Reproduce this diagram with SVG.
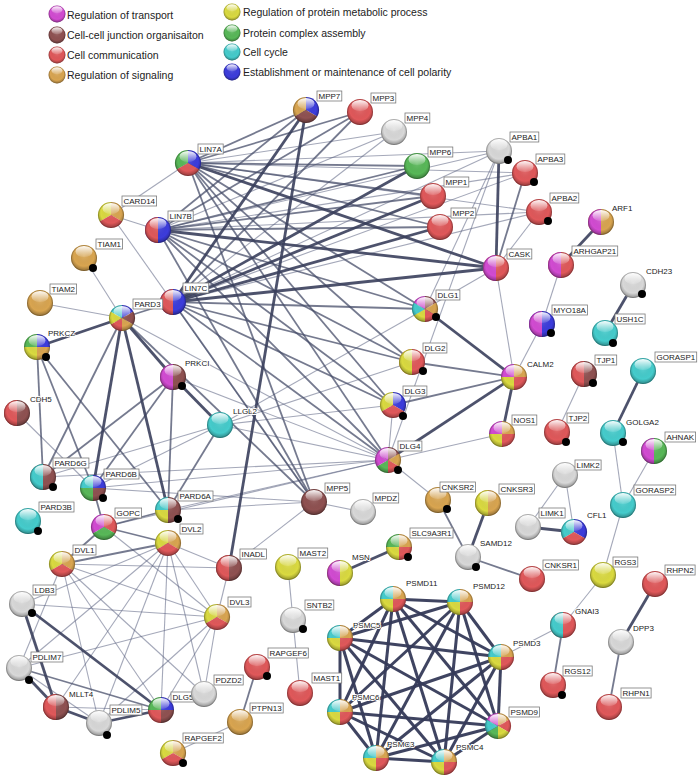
<svg xmlns="http://www.w3.org/2000/svg" xmlns:xlink="http://www.w3.org/1999/xlink" width="700" height="780" viewBox="0 0 700 780">
<style>
.l{stroke:#5a6080;stroke-opacity:.55;stroke-width:1.1}
.m{stroke:#474d6a;stroke-opacity:.75;stroke-width:1.8}
.t{stroke:#3a3f5c;stroke-opacity:.9;stroke-width:2.8}
.p{stroke:#353a58;stroke-opacity:.95;stroke-width:3}
.lb{fill:#fff;stroke:#7a7a7a;stroke-width:.8}
.lt,.lu{font-family:"Liberation Sans",Arial,sans-serif;font-size:8px;fill:#222}
.lu{paint-order:stroke;stroke:#fff;stroke-width:2;stroke-linejoin:round}
.lg{font-family:"Liberation Sans",Arial,sans-serif;font-size:10.5px;fill:#222}
.dot{fill:#000}
.mag{fill:#d24bd2}.brn{fill:#8f5151}.red{fill:#e0585a}.tan{fill:#d9a550}.yel{fill:#dada40}.grn{fill:#58b858}.cyn{fill:#45cccc}.blu{fill:#3c3cdc}.gry{fill:#d8d8d8}
</style>
<defs>
<radialGradient id="shade" cx="0.5" cy="0.42" r="0.6">
<stop offset="0" stop-color="#fff" stop-opacity="0.12"/>
<stop offset="0.65" stop-color="#000" stop-opacity="0"/>
<stop offset="1" stop-color="#000" stop-opacity="0.38"/>
</radialGradient>
<linearGradient id="hi" x1="0" y1="0" x2="0" y2="1">
<stop offset="0" stop-color="#fff" stop-opacity="0.95"/>
<stop offset="1" stop-color="#fff" stop-opacity="0.1"/>
</linearGradient>
<circle id="c" r="13"/>
<path id="hL" d="M0,-13A13,13 0 0 0 0,13Z"/>
<path id="qTL" d="M0,0H-13A13,13 0 0 1 0,-13Z"/>
<path id="qTR" d="M0,0V-13A13,13 0 0 1 13,0Z"/>
<path id="qBR" d="M0,0H13A13,13 0 0 1 0,13Z"/>
<path id="qBL" d="M0,0V13A13,13 0 0 1 -13,0Z"/>
<path id="tTL" d="M0,0L-11.26,6.5A13,13 0 0 1 0,-13Z"/>
<path id="tTR" d="M0,0V-13A13,13 0 0 1 11.26,6.5Z"/>
<path id="tB" d="M0,0L11.26,6.5A13,13 0 0 1 -11.26,6.5Z"/>
<path id="s1" d="M0,0V-13A13,13 0 0 1 11.26,-6.5Z"/>
<path id="s2" d="M0,0L11.26,-6.5A13,13 0 0 1 11.26,6.5Z"/>
<path id="s3" d="M0,0L11.26,6.5A13,13 0 0 1 0,13Z"/>
<path id="s4" d="M0,0V13A13,13 0 0 1 -11.26,6.5Z"/>
<path id="s5" d="M0,0L-11.26,6.5A13,13 0 0 1 -11.26,-6.5Z"/>
<path id="s6" d="M0,0L-11.26,-6.5A13,13 0 0 1 0,-13Z"/>
<g id="gl">
<circle r="13" fill="url(#shade)"/>
<ellipse cx="0" cy="-6.5" rx="8.5" ry="5.5" fill="url(#hi)"/>
<circle r="12.6" fill="none" stroke="#000" stroke-opacity="0.22" stroke-width="0.8"/>
</g>
</defs>
<rect width="700" height="780" fill="#fff"/>

<g id="legend">
<g transform="translate(57,14) scale(0.65)"><use href="#c" class="mag"/><use href="#gl"/></g>
<g transform="translate(57,35) scale(0.65)"><use href="#c" class="brn"/><use href="#gl"/></g>
<g transform="translate(57,55) scale(0.65)"><use href="#c" class="red"/><use href="#gl"/></g>
<g transform="translate(57,75) scale(0.65)"><use href="#c" class="tan"/><use href="#gl"/></g>
<g transform="translate(232,12) scale(0.65)"><use href="#c" class="yel"/><use href="#gl"/></g>
<g transform="translate(232,33) scale(0.65)"><use href="#c" class="grn"/><use href="#gl"/></g>
<g transform="translate(232,52) scale(0.65)"><use href="#c" class="cyn"/><use href="#gl"/></g>
<g transform="translate(232,72) scale(0.65)"><use href="#c" class="blu"/><use href="#gl"/></g>
<text class="lg" x="67" y="19">Regulation of transport</text>
<text class="lg" x="67" y="39">Cell-cell junction organisaiton</text>
<text class="lg" x="67" y="59">Cell communication</text>
<text class="lg" x="67" y="79">Regulation of signaling</text>
<text class="lg" x="243" y="16">Regulation of protein metabolic process</text>
<text class="lg" x="243" y="37">Protein complex assembly</text>
<text class="lg" x="243" y="56">Cell cycle</text>
<text class="lg" x="243" y="76">Establishment or maintenance of cell polarity</text>
</g>

<g id="edges">
<line class="l" x1="188" y1="163" x2="111" y2="215"/>
<line class="l" x1="158" y1="230" x2="111" y2="215"/>
<line class="l" x1="188" y1="163" x2="394" y2="132"/>
<line class="l" x1="188" y1="163" x2="499" y2="151"/>
<line class="l" x1="188" y1="163" x2="525" y2="173"/>
<line class="l" x1="188" y1="163" x2="539" y2="212"/>
<line class="l" x1="158" y1="230" x2="394" y2="132"/>
<line class="l" x1="158" y1="230" x2="499" y2="151"/>
<line class="l" x1="158" y1="230" x2="525" y2="173"/>
<line class="l" x1="158" y1="230" x2="539" y2="212"/>
<line class="l" x1="173" y1="302" x2="394" y2="132"/>
<line class="l" x1="173" y1="302" x2="499" y2="151"/>
<line class="l" x1="173" y1="302" x2="525" y2="173"/>
<line class="l" x1="173" y1="302" x2="539" y2="212"/>
<line class="l" x1="496" y1="268" x2="539" y2="212"/>
<line class="l" x1="496" y1="268" x2="514" y2="377"/>
<line class="l" x1="496" y1="268" x2="425" y2="309"/>
<line class="l" x1="499" y1="151" x2="425" y2="309"/>
<line class="l" x1="499" y1="151" x2="388" y2="460"/>
<line class="l" x1="542" y1="324" x2="561" y2="265"/>
<line class="l" x1="542" y1="324" x2="514" y2="377"/>
<line class="l" x1="425" y1="309" x2="220" y2="425"/>
<line class="l" x1="412" y1="362" x2="220" y2="425"/>
<line class="l" x1="393" y1="405" x2="220" y2="425"/>
<line class="l" x1="388" y1="460" x2="220" y2="425"/>
<line class="l" x1="393" y1="405" x2="388" y2="460"/>
<line class="l" x1="388" y1="460" x2="502" y2="434"/>
<line class="l" x1="388" y1="460" x2="438" y2="500"/>
<line class="l" x1="122" y1="318" x2="84" y2="258"/>
<line class="l" x1="122" y1="318" x2="40" y2="303"/>
<line class="l" x1="122" y1="318" x2="388" y2="460"/>
<line class="l" x1="173" y1="377" x2="388" y2="460"/>
<line class="l" x1="17" y1="413" x2="93" y2="488"/>
<line class="l" x1="220" y1="425" x2="43" y2="477"/>
<line class="l" x1="220" y1="425" x2="93" y2="488"/>
<line class="l" x1="93" y1="488" x2="388" y2="460"/>
<line class="l" x1="43" y1="477" x2="388" y2="460"/>
<line class="l" x1="168" y1="510" x2="388" y2="460"/>
<line class="l" x1="104" y1="527" x2="388" y2="460"/>
<line class="l" x1="93" y1="488" x2="314" y2="502"/>
<line class="l" x1="168" y1="510" x2="314" y2="502"/>
<line class="l" x1="229" y1="568" x2="314" y2="502"/>
<line class="l" x1="314" y1="502" x2="363" y2="512"/>
<line class="l" x1="111" y1="215" x2="314" y2="502"/>
<line class="l" x1="62" y1="564" x2="217" y2="617"/>
<line class="l" x1="62" y1="564" x2="229" y2="568"/>
<line class="l" x1="168" y1="543" x2="229" y2="568"/>
<line class="l" x1="217" y1="617" x2="229" y2="568"/>
<line class="l" x1="62" y1="564" x2="19" y2="668"/>
<line class="l" x1="62" y1="564" x2="99" y2="723"/>
<line class="l" x1="62" y1="564" x2="161" y2="710"/>
<line class="l" x1="62" y1="564" x2="204" y2="694"/>
<line class="l" x1="168" y1="543" x2="22" y2="604"/>
<line class="l" x1="168" y1="543" x2="19" y2="668"/>
<line class="l" x1="168" y1="543" x2="56" y2="707"/>
<line class="l" x1="168" y1="543" x2="99" y2="723"/>
<line class="l" x1="168" y1="543" x2="161" y2="710"/>
<line class="l" x1="168" y1="543" x2="204" y2="694"/>
<line class="l" x1="168" y1="543" x2="217" y2="617"/>
<line class="l" x1="217" y1="617" x2="22" y2="604"/>
<line class="l" x1="217" y1="617" x2="19" y2="668"/>
<line class="l" x1="217" y1="617" x2="161" y2="710"/>
<line class="l" x1="217" y1="617" x2="204" y2="694"/>
<line class="l" x1="217" y1="617" x2="99" y2="723"/>
<line class="l" x1="104" y1="527" x2="217" y2="617"/>
<line class="l" x1="56" y1="707" x2="161" y2="710"/>
<line class="l" x1="19" y1="668" x2="99" y2="723"/>
<line class="l" x1="501" y1="657" x2="563" y2="625"/>
<line class="l" x1="563" y1="625" x2="603" y2="575"/>
<line class="l" x1="603" y1="575" x2="623" y2="505"/>
<line class="l" x1="623" y1="505" x2="613" y2="433"/>
<line class="l" x1="623" y1="505" x2="654" y2="451"/>
<line class="l" x1="528" y1="527" x2="565" y2="475"/>
<line class="l" x1="565" y1="475" x2="574" y2="532"/>
<line class="l" x1="584" y1="374" x2="557" y2="432"/>
<line class="l" x1="288" y1="567" x2="293" y2="620"/>
<line class="l" x1="293" y1="620" x2="300" y2="693"/>
<line class="l" x1="240" y1="722" x2="173" y2="753"/>

<line class="m" x1="188" y1="163" x2="306" y2="110"/>
<line class="m" x1="188" y1="163" x2="360" y2="112"/>
<line class="m" x1="188" y1="163" x2="417" y2="166"/>
<line class="m" x1="188" y1="163" x2="433" y2="196"/>
<line class="m" x1="188" y1="163" x2="440" y2="227"/>
<line class="m" x1="188" y1="163" x2="425" y2="309"/>
<line class="m" x1="188" y1="163" x2="412" y2="362"/>
<line class="m" x1="188" y1="163" x2="393" y2="405"/>
<line class="m" x1="188" y1="163" x2="388" y2="460"/>
<line class="m" x1="188" y1="163" x2="314" y2="502"/>
<line class="m" x1="158" y1="230" x2="306" y2="110"/>
<line class="m" x1="158" y1="230" x2="360" y2="112"/>
<line class="m" x1="158" y1="230" x2="417" y2="166"/>
<line class="m" x1="158" y1="230" x2="433" y2="196"/>
<line class="m" x1="158" y1="230" x2="440" y2="227"/>
<line class="m" x1="158" y1="230" x2="425" y2="309"/>
<line class="m" x1="158" y1="230" x2="412" y2="362"/>
<line class="m" x1="158" y1="230" x2="393" y2="405"/>
<line class="m" x1="158" y1="230" x2="388" y2="460"/>
<line class="m" x1="158" y1="230" x2="314" y2="502"/>
<line class="m" x1="173" y1="302" x2="360" y2="112"/>
<line class="m" x1="173" y1="302" x2="425" y2="309"/>
<line class="m" x1="173" y1="302" x2="412" y2="362"/>
<line class="m" x1="173" y1="302" x2="393" y2="405"/>
<line class="m" x1="173" y1="302" x2="388" y2="460"/>
<line class="m" x1="173" y1="302" x2="314" y2="502"/>
<line class="m" x1="496" y1="268" x2="525" y2="173"/>
<line class="m" x1="412" y1="362" x2="514" y2="377"/>
<line class="m" x1="393" y1="405" x2="514" y2="377"/>
<line class="m" x1="122" y1="318" x2="173" y2="302"/>
<line class="m" x1="122" y1="318" x2="43" y2="477"/>
<line class="m" x1="122" y1="318" x2="314" y2="502"/>
<line class="m" x1="37" y1="347" x2="43" y2="477"/>
<line class="m" x1="37" y1="347" x2="93" y2="488"/>
<line class="m" x1="37" y1="347" x2="168" y2="510"/>
<line class="m" x1="173" y1="377" x2="43" y2="477"/>
<line class="m" x1="173" y1="377" x2="93" y2="488"/>
<line class="m" x1="173" y1="377" x2="168" y2="510"/>
<line class="m" x1="220" y1="425" x2="168" y2="510"/>
<line class="m" x1="104" y1="527" x2="93" y2="488"/>
<line class="m" x1="104" y1="527" x2="168" y2="510"/>
<line class="m" x1="104" y1="527" x2="62" y2="564"/>
<line class="m" x1="104" y1="527" x2="168" y2="543"/>
<line class="m" x1="62" y1="564" x2="168" y2="543"/>
<line class="m" x1="19" y1="668" x2="161" y2="710"/>
<line class="m" x1="563" y1="625" x2="553" y2="685"/>
<line class="m" x1="438" y1="500" x2="468" y2="557"/>
<line class="m" x1="468" y1="557" x2="532" y2="579"/>
<line class="m" x1="257" y1="667" x2="240" y2="722"/>
<line class="m" x1="621" y1="642" x2="609" y2="707"/>

<line class="t" x1="188" y1="163" x2="496" y2="268"/>
<line class="t" x1="158" y1="230" x2="496" y2="268"/>
<line class="t" x1="173" y1="302" x2="496" y2="268"/>
<line class="t" x1="173" y1="302" x2="306" y2="110"/>
<line class="t" x1="173" y1="302" x2="417" y2="166"/>
<line class="t" x1="173" y1="302" x2="433" y2="196"/>
<line class="t" x1="173" y1="302" x2="440" y2="227"/>
<line class="t" x1="306" y1="110" x2="229" y2="568"/>
<line class="t" x1="496" y1="268" x2="499" y2="151"/>
<line class="t" x1="425" y1="309" x2="514" y2="377"/>
<line class="t" x1="388" y1="460" x2="514" y2="377"/>
<line class="t" x1="514" y1="377" x2="502" y2="434"/>
<line class="t" x1="122" y1="318" x2="37" y2="347"/>
<line class="t" x1="122" y1="318" x2="173" y2="377"/>
<line class="t" x1="122" y1="318" x2="93" y2="488"/>
<line class="t" x1="122" y1="318" x2="168" y2="510"/>
<line class="t" x1="173" y1="377" x2="220" y2="425"/>
<line class="t" x1="22" y1="604" x2="56" y2="707"/>
<line class="t" x1="22" y1="604" x2="161" y2="710"/>
<line class="t" x1="19" y1="668" x2="56" y2="707"/>
<line class="t" x1="56" y1="707" x2="99" y2="723"/>
<line class="t" x1="99" y1="723" x2="161" y2="710"/>
<line class="t" x1="601" y1="222" x2="561" y2="265"/>
<line class="t" x1="633" y1="285" x2="605" y2="333"/>
<line class="t" x1="613" y1="433" x2="643" y2="371"/>
<line class="t" x1="528" y1="527" x2="574" y2="532"/>
<line class="t" x1="488" y1="503" x2="468" y2="557"/>
<line class="t" x1="340" y1="573" x2="399" y2="547"/>
<line class="t" x1="621" y1="642" x2="655" y2="584"/>

<line class="p" x1="393" y1="599" x2="460" y2="602"/>
<line class="p" x1="393" y1="599" x2="340" y2="638"/>
<line class="p" x1="393" y1="599" x2="501" y2="657"/>
<line class="p" x1="393" y1="599" x2="340" y2="712"/>
<line class="p" x1="393" y1="599" x2="498" y2="726"/>
<line class="p" x1="393" y1="599" x2="376" y2="758"/>
<line class="p" x1="393" y1="599" x2="444" y2="762"/>
<line class="p" x1="460" y1="602" x2="340" y2="638"/>
<line class="p" x1="460" y1="602" x2="501" y2="657"/>
<line class="p" x1="460" y1="602" x2="340" y2="712"/>
<line class="p" x1="460" y1="602" x2="498" y2="726"/>
<line class="p" x1="460" y1="602" x2="376" y2="758"/>
<line class="p" x1="460" y1="602" x2="444" y2="762"/>
<line class="p" x1="340" y1="638" x2="501" y2="657"/>
<line class="p" x1="340" y1="638" x2="340" y2="712"/>
<line class="p" x1="340" y1="638" x2="498" y2="726"/>
<line class="p" x1="340" y1="638" x2="376" y2="758"/>
<line class="p" x1="340" y1="638" x2="444" y2="762"/>
<line class="p" x1="501" y1="657" x2="340" y2="712"/>
<line class="p" x1="501" y1="657" x2="498" y2="726"/>
<line class="p" x1="501" y1="657" x2="376" y2="758"/>
<line class="p" x1="501" y1="657" x2="444" y2="762"/>
<line class="p" x1="340" y1="712" x2="498" y2="726"/>
<line class="p" x1="340" y1="712" x2="376" y2="758"/>
<line class="p" x1="340" y1="712" x2="444" y2="762"/>
<line class="p" x1="498" y1="726" x2="376" y2="758"/>
<line class="p" x1="498" y1="726" x2="444" y2="762"/>
<line class="p" x1="376" y1="758" x2="444" y2="762"/>
</g>

<g id="nodes">
<g id="MPP7" transform="translate(306,110)"><use href="#tTL" class="tan"/><use href="#tTR" class="blu"/><use href="#tB" class="brn"/><use href="#gl"/><rect class="lb" x="11" y="-19" width="24.8" height="10"/><text class="lt" x="12.5" y="-11.5">MPP7</text></g>
<g id="MPP3" transform="translate(360,112)"><use href="#c" class="red"/><use href="#gl"/><rect class="lb" x="11" y="-19" width="24.8" height="10"/><text class="lt" x="12.5" y="-11.5">MPP3</text></g>
<g id="MPP4" transform="translate(394,132)"><use href="#c" class="gry"/><use href="#gl"/><rect class="lb" x="11" y="-19" width="24.8" height="10"/><text class="lt" x="12.5" y="-11.5">MPP4</text></g>
<g id="MPP6" transform="translate(417,166)"><use href="#c" class="grn"/><use href="#gl"/><rect class="lb" x="11" y="-19" width="24.8" height="10"/><text class="lt" x="12.5" y="-11.5">MPP6</text></g>
<g id="MPP1" transform="translate(433,196)"><use href="#c" class="red"/><use href="#gl"/><rect class="lb" x="11" y="-19" width="24.8" height="10"/><text class="lt" x="12.5" y="-11.5">MPP1</text></g>
<g id="MPP2" transform="translate(440,227)"><use href="#c" class="red"/><use href="#gl"/><rect class="lb" x="11" y="-19" width="24.8" height="10"/><text class="lt" x="12.5" y="-11.5">MPP2</text></g>
<g id="APBA1" transform="translate(499,151)"><use href="#c" class="gry"/><use href="#gl"/><circle class="dot" cx="9" cy="9" r="4"/><rect class="lb" x="11" y="-19" width="28.8" height="10"/><text class="lt" x="12.5" y="-11.5">APBA1</text></g>
<g id="APBA3" transform="translate(525,173)"><use href="#c" class="red"/><use href="#gl"/><circle class="dot" cx="9" cy="9" r="4"/><rect class="lb" x="11" y="-19" width="28.8" height="10"/><text class="lt" x="12.5" y="-11.5">APBA3</text></g>
<g id="APBA2" transform="translate(539,212)"><use href="#c" class="red"/><use href="#gl"/><circle class="dot" cx="9" cy="9" r="4"/><rect class="lb" x="11" y="-19" width="28.8" height="10"/><text class="lt" x="12.5" y="-11.5">APBA2</text></g>
<g id="ARF1" transform="translate(601,222)"><use href="#c" class="tan"/><use href="#hL" class="mag"/><use href="#gl"/><text class="lu" x="11" y="-11.5">ARF1</text></g>
<g id="ARHGAP21" transform="translate(561,265)"><use href="#c" class="red"/><use href="#hL" class="mag"/><use href="#gl"/><rect class="lb" x="11" y="-19" width="45.7" height="10"/><text class="lt" x="12.5" y="-11.5">ARHGAP21</text></g>
<g id="CASK" transform="translate(496,268)"><use href="#c" class="red"/><use href="#hL" class="mag"/><use href="#gl"/><rect class="lb" x="11" y="-19" width="24.8" height="10"/><text class="lt" x="12.5" y="-11.5">CASK</text></g>
<g id="CDH23" transform="translate(633,285)"><use href="#c" class="gry"/><use href="#gl"/><circle class="dot" cx="9" cy="9" r="4"/><text class="lu" x="13" y="-11.5">CDH23</text></g>
<g id="USH1C" transform="translate(605,333)"><use href="#c" class="cyn"/><use href="#gl"/><circle class="dot" cx="8" cy="10" r="4"/><rect class="lb" x="10" y="-19" width="30.1" height="10"/><text class="lt" x="11.5" y="-11.5">USH1C</text></g>
<g id="MYO18A" transform="translate(542,324)"><use href="#c" class="blu"/><use href="#hL" class="mag"/><use href="#gl"/><circle class="dot" cx="9" cy="9" r="4"/><rect class="lb" x="10" y="-19" width="35.5" height="10"/><text class="lt" x="11.5" y="-11.5">MYO18A</text></g>
<g id="CALM2" transform="translate(514,377)"><use href="#qTL" class="mag"/><use href="#qTR" class="tan"/><use href="#qBL" class="yel"/><use href="#qBR" class="red"/><use href="#gl"/><text class="lu" x="13" y="-10">CALM2</text></g>
<g id="TJP1" transform="translate(584,374)"><use href="#c" class="brn"/><use href="#hL" class="red"/><use href="#gl"/><circle class="dot" cx="9" cy="9" r="4"/><rect class="lb" x="11" y="-19" width="21.7" height="10"/><text class="lt" x="12.5" y="-11.5">TJP1</text></g>
<g id="GORASP1" transform="translate(643,371)"><use href="#c" class="cyn"/><use href="#gl"/><rect class="lb" x="12" y="-19" width="41.7" height="10"/><text class="lt" x="13.5" y="-11.5">GORASP1</text></g>
<g id="NOS1" transform="translate(502,434)"><use href="#qTL" class="mag"/><use href="#qTR" class="tan"/><use href="#qBL" class="yel"/><use href="#qBR" class="red"/><use href="#gl"/><rect class="lb" x="10" y="-19" width="24.8" height="10"/><text class="lt" x="11.5" y="-11.5">NOS1</text></g>
<g id="TJP2" transform="translate(557,432)"><use href="#c" class="red"/><use href="#gl"/><circle class="dot" cx="9" cy="10" r="4"/><rect class="lb" x="10" y="-19" width="21.7" height="10"/><text class="lt" x="11.5" y="-11.5">TJP2</text></g>
<g id="GOLGA2" transform="translate(613,433)"><use href="#c" class="cyn"/><use href="#gl"/><circle class="dot" cx="10" cy="9" r="4"/><text class="lu" x="13" y="-8">GOLGA2</text></g>
<g id="AHNAK" transform="translate(654,451)"><use href="#c" class="grn"/><use href="#hL" class="mag"/><use href="#gl"/><rect class="lb" x="11" y="-19" width="30.6" height="10"/><text class="lt" x="12.5" y="-11.5">AHNAK</text></g>
<g id="LIMK2" transform="translate(565,475)"><use href="#c" class="gry"/><use href="#gl"/><rect class="lb" x="10" y="-15" width="26.1" height="10"/><text class="lt" x="11.5" y="-7.5">LIMK2</text></g>
<g id="DLG1" transform="translate(425,309)"><use href="#s1" class="brn"/><use href="#s2" class="tan"/><use href="#s3" class="red"/><use href="#s4" class="yel"/><use href="#s5" class="cyn"/><use href="#s6" class="mag"/><use href="#gl"/><circle class="dot" cx="11" cy="8" r="4"/><rect class="lb" x="11" y="-19" width="23.9" height="10"/><text class="lt" x="12.5" y="-11.5">DLG1</text></g>
<g id="DLG2" transform="translate(412,362)"><use href="#c" class="red"/><use href="#hL" class="yel"/><use href="#gl"/><circle class="dot" cx="11" cy="9" r="4"/><rect class="lb" x="11" y="-19" width="23.9" height="10"/><text class="lt" x="12.5" y="-11.5">DLG2</text></g>
<g id="DLG3" transform="translate(393,405)"><use href="#tTL" class="yel"/><use href="#tTR" class="blu"/><use href="#tB" class="red"/><use href="#gl"/><circle class="dot" cx="10" cy="11" r="4"/><rect class="lb" x="10" y="-19" width="23.9" height="10"/><text class="lt" x="11.5" y="-11.5">DLG3</text></g>
<g id="DLG4" transform="translate(388,460)"><use href="#s1" class="brn"/><use href="#s2" class="tan"/><use href="#s3" class="red"/><use href="#s4" class="grn"/><use href="#s5" class="mag"/><use href="#s6" class="mag"/><use href="#gl"/><circle class="dot" cx="10" cy="10" r="4"/><rect class="lb" x="10" y="-19" width="23.9" height="10"/><text class="lt" x="11.5" y="-11.5">DLG4</text></g>
<g id="LLGL2" transform="translate(220,425)"><use href="#c" class="cyn"/><use href="#gl"/><text class="lu" x="13" y="-11.5">LLGL2</text></g>
<g id="LIN7A" transform="translate(188,163)"><use href="#tTL" class="grn"/><use href="#tTR" class="blu"/><use href="#tB" class="red"/><use href="#gl"/><rect class="lb" x="10" y="-19" width="25.2" height="10"/><text class="lt" x="11.5" y="-11.5">LIN7A</text></g>
<g id="CARD14" transform="translate(111,215)"><use href="#tTL" class="yel"/><use href="#tTR" class="tan"/><use href="#tB" class="red"/><use href="#gl"/><rect class="lb" x="11" y="-19" width="34.6" height="10"/><text class="lt" x="12.5" y="-11.5">CARD14</text></g>
<g id="LIN7B" transform="translate(158,230)"><use href="#c" class="blu"/><use href="#hL" class="red"/><use href="#gl"/><rect class="lb" x="10" y="-19" width="25.2" height="10"/><text class="lt" x="11.5" y="-11.5">LIN7B</text></g>
<g id="TIAM1" transform="translate(84,258)"><use href="#c" class="tan"/><use href="#gl"/><circle class="dot" cx="9" cy="10" r="4"/><rect class="lb" x="12" y="-19" width="26.6" height="10"/><text class="lt" x="13.5" y="-11.5">TIAM1</text></g>
<g id="TIAM2" transform="translate(40,303)"><use href="#c" class="tan"/><use href="#gl"/><rect class="lb" x="10" y="-19" width="26.6" height="10"/><text class="lt" x="11.5" y="-11.5">TIAM2</text></g>
<g id="LIN7C" transform="translate(173,302)"><use href="#c" class="blu"/><use href="#hL" class="red"/><use href="#gl"/><rect class="lb" x="10" y="-19" width="25.7" height="10"/><text class="lt" x="11.5" y="-11.5">LIN7C</text></g>
<g id="PARD3" transform="translate(122,318)"><use href="#s1" class="blu"/><use href="#s2" class="brn"/><use href="#s3" class="tan"/><use href="#s4" class="red"/><use href="#s5" class="yel"/><use href="#s6" class="cyn"/><use href="#gl"/><rect class="lb" x="11" y="-19" width="29.7" height="10"/><text class="lt" x="12.5" y="-11.5">PARD3</text></g>
<g id="PRKCZ" transform="translate(37,347)"><use href="#qTL" class="grn"/><use href="#qTR" class="blu"/><use href="#qBL" class="yel"/><use href="#qBR" class="tan"/><use href="#gl"/><circle class="dot" cx="9" cy="10" r="4"/><text class="lu" x="11" y="-11.5">PRKCZ</text></g>
<g id="PRKCI" transform="translate(173,377)"><use href="#c" class="brn"/><use href="#hL" class="mag"/><use href="#gl"/><circle class="dot" cx="9" cy="9" r="4"/><text class="lu" x="12" y="-11.5">PRKCI</text></g>
<g id="CDH5" transform="translate(17,413)"><use href="#c" class="brn"/><use href="#hL" class="red"/><use href="#gl"/><text class="lu" x="13" y="-11.5">CDH5</text></g>
<g id="PARD6G" transform="translate(43,477)"><use href="#c" class="brn"/><use href="#hL" class="cyn"/><use href="#gl"/><circle class="dot" cx="10" cy="10" r="4"/><rect class="lb" x="10" y="-19" width="35.9" height="10"/><text class="lt" x="11.5" y="-11.5">PARD6G</text></g>
<g id="PARD6B" transform="translate(93,488)"><use href="#qTL" class="cyn"/><use href="#qTR" class="blu"/><use href="#qBL" class="grn"/><use href="#qBR" class="brn"/><use href="#gl"/><circle class="dot" cx="10" cy="10" r="4"/><rect class="lb" x="11" y="-19" width="35" height="10"/><text class="lt" x="12.5" y="-11.5">PARD6B</text></g>
<g id="PARD3B" transform="translate(28,521)"><use href="#c" class="cyn"/><use href="#gl"/><circle class="dot" cx="10" cy="10" r="4"/><rect class="lb" x="11" y="-19" width="35" height="10"/><text class="lt" x="12.5" y="-11.5">PARD3B</text></g>
<g id="GOPC" transform="translate(104,527)"><use href="#tTL" class="mag"/><use href="#tTR" class="red"/><use href="#tB" class="grn"/><use href="#gl"/><rect class="lb" x="11" y="-19" width="26.6" height="10"/><text class="lt" x="12.5" y="-11.5">GOPC</text></g>
<g id="PARD6A" transform="translate(168,510)"><use href="#qTL" class="cyn"/><use href="#qTR" class="brn"/><use href="#qBL" class="yel"/><use href="#qBR" class="brn"/><use href="#gl"/><circle class="dot" cx="10" cy="9" r="4"/><rect class="lb" x="10" y="-19" width="35" height="10"/><text class="lt" x="11.5" y="-11.5">PARD6A</text></g>
<g id="DVL2" transform="translate(168,543)"><use href="#tTL" class="yel"/><use href="#tTR" class="tan"/><use href="#tB" class="red"/><use href="#gl"/><rect class="lb" x="12" y="-19" width="23" height="10"/><text class="lt" x="13.5" y="-11.5">DVL2</text></g>
<g id="DVL1" transform="translate(62,564)"><use href="#tTL" class="yel"/><use href="#tTR" class="tan"/><use href="#tB" class="red"/><use href="#gl"/><rect class="lb" x="11" y="-19" width="23" height="10"/><text class="lt" x="12.5" y="-11.5">DVL1</text></g>
<g id="INADL" transform="translate(229,568)"><use href="#c" class="brn"/><use href="#hL" class="red"/><use href="#gl"/><rect class="lb" x="11" y="-19" width="26.6" height="10"/><text class="lt" x="12.5" y="-11.5">INADL</text></g>
<g id="LDB3" transform="translate(22,604)"><use href="#c" class="gry"/><use href="#gl"/><circle class="dot" cx="10" cy="9" r="4"/><rect class="lb" x="11" y="-19" width="23" height="10"/><text class="lt" x="12.5" y="-11.5">LDB3</text></g>
<g id="DVL3" transform="translate(217,617)"><use href="#tTL" class="yel"/><use href="#tTR" class="tan"/><use href="#tB" class="red"/><use href="#gl"/><rect class="lb" x="11" y="-20" width="23" height="10"/><text class="lt" x="12.5" y="-12.5">DVL3</text></g>
<g id="PDLIM7" transform="translate(19,668)"><use href="#c" class="gry"/><use href="#gl"/><circle class="dot" cx="10" cy="12" r="4"/><rect class="lb" x="12" y="-16" width="31.9" height="10"/><text class="lt" x="13.5" y="-8.5">PDLIM7</text></g>
<g id="MLLT4" transform="translate(56,707)"><use href="#c" class="brn"/><use href="#hL" class="red"/><use href="#gl"/><text class="lu" x="13" y="-10">MLLT4</text></g>
<g id="PDLIM5" transform="translate(99,723)"><use href="#c" class="gry"/><use href="#gl"/><circle class="dot" cx="8" cy="12" r="4"/><rect class="lb" x="11" y="-18" width="31.9" height="10"/><text class="lt" x="12.5" y="-10.5">PDLIM5</text></g>
<g id="DLG5" transform="translate(161,710)"><use href="#qTL" class="grn"/><use href="#qTR" class="blu"/><use href="#qBL" class="red"/><use href="#qBR" class="brn"/><use href="#gl"/><rect class="lb" x="10" y="-18" width="23.9" height="10"/><text class="lt" x="11.5" y="-10.5">DLG5</text></g>
<g id="PDZD2" transform="translate(204,694)"><use href="#c" class="gry"/><use href="#gl"/><rect class="lb" x="10" y="-19" width="29.2" height="10"/><text class="lt" x="11.5" y="-11.5">PDZD2</text></g>
<g id="RAPGEF6" transform="translate(257,667)"><use href="#c" class="red"/><use href="#gl"/><circle class="dot" cx="10" cy="9" r="4"/><rect class="lb" x="11" y="-19" width="40.3" height="10"/><text class="lt" x="12.5" y="-11.5">RAPGEF6</text></g>
<g id="PTPN13" transform="translate(240,722)"><use href="#c" class="tan"/><use href="#gl"/><rect class="lb" x="10" y="-19" width="33.2" height="10"/><text class="lt" x="11.5" y="-11.5">PTPN13</text></g>
<g id="RAPGEF2" transform="translate(173,753)"><use href="#tTL" class="yel"/><use href="#tTR" class="tan"/><use href="#tB" class="red"/><use href="#gl"/><circle class="dot" cx="10" cy="10" r="4"/><rect class="lb" x="10" y="-20" width="40.3" height="10"/><text class="lt" x="11.5" y="-12.5">RAPGEF2</text></g>
<g id="MAST1" transform="translate(300,693)"><use href="#c" class="red"/><use href="#gl"/><rect class="lb" x="12" y="-20" width="29.7" height="10"/><text class="lt" x="13.5" y="-12.5">MAST1</text></g>
<g id="SNTB2" transform="translate(293,620)"><use href="#c" class="gry"/><use href="#gl"/><circle class="dot" cx="10" cy="9" r="4"/><rect class="lb" x="12" y="-20" width="28.8" height="10"/><text class="lt" x="13.5" y="-12.5">SNTB2</text></g>
<g id="MAST2" transform="translate(288,567)"><use href="#c" class="yel"/><use href="#gl"/><rect class="lb" x="10" y="-19" width="29.7" height="10"/><text class="lt" x="11.5" y="-11.5">MAST2</text></g>
<g id="MPP5" transform="translate(314,502)"><use href="#c" class="brn"/><use href="#gl"/><rect class="lb" x="11" y="-19" width="24.8" height="10"/><text class="lt" x="12.5" y="-11.5">MPP5</text></g>
<g id="MPDZ" transform="translate(363,512)"><use href="#c" class="gry"/><use href="#gl"/><rect class="lb" x="10" y="-19" width="25.7" height="10"/><text class="lt" x="11.5" y="-11.5">MPDZ</text></g>
<g id="CNKSR2" transform="translate(438,500)"><use href="#c" class="tan"/><use href="#gl"/><circle class="dot" cx="9" cy="9" r="4"/><rect class="lb" x="2" y="-18" width="35.4" height="10"/><text class="lt" x="3.5" y="-10.5">CNKSR2</text></g>
<g id="CNKSR3" transform="translate(488,503)"><use href="#c" class="tan"/><use href="#hL" class="yel"/><use href="#gl"/><rect class="lb" x="11" y="-19" width="35.4" height="10"/><text class="lt" x="12.5" y="-11.5">CNKSR3</text></g>
<g id="SLC9A3R1" transform="translate(399,547)"><use href="#qTL" class="grn"/><use href="#qTR" class="tan"/><use href="#qBL" class="yel"/><use href="#qBR" class="red"/><use href="#gl"/><circle class="dot" cx="9" cy="10" r="4"/><rect class="lb" x="11" y="-19" width="43" height="10"/><text class="lt" x="12.5" y="-11.5">SLC9A3R1</text></g>
<g id="MSN" transform="translate(340,573)"><use href="#c" class="yel"/><use href="#hL" class="mag"/><use href="#gl"/><text class="lu" x="12" y="-13">MSN</text></g>
<g id="PSMD11" transform="translate(393,599)"><use href="#qTL" class="cyn"/><use href="#qTR" class="tan"/><use href="#qBL" class="yel"/><use href="#qBR" class="red"/><use href="#gl"/><text class="lu" x="13" y="-13">PSMD11</text></g>
<g id="PSMD12" transform="translate(460,602)"><use href="#qTL" class="cyn"/><use href="#qTR" class="tan"/><use href="#qBL" class="yel"/><use href="#qBR" class="red"/><use href="#gl"/><text class="lu" x="13" y="-13">PSMD12</text></g>
<g id="PSMC5" transform="translate(340,638)"><use href="#qTL" class="cyn"/><use href="#qTR" class="tan"/><use href="#qBL" class="yel"/><use href="#qBR" class="red"/><use href="#gl"/><text class="lu" x="13" y="-10">PSMC5</text></g>
<g id="PSMD3" transform="translate(501,657)"><use href="#qTL" class="cyn"/><use href="#qTR" class="tan"/><use href="#qBL" class="yel"/><use href="#qBR" class="red"/><use href="#gl"/><text class="lu" x="12" y="-11">PSMD3</text></g>
<g id="PSMC6" transform="translate(340,712)"><use href="#qTL" class="cyn"/><use href="#qTR" class="tan"/><use href="#qBL" class="yel"/><use href="#qBR" class="red"/><use href="#gl"/><text class="lu" x="12" y="-12">PSMC6</text></g>
<g id="PSMD9" transform="translate(498,726)"><use href="#s1" class="tan"/><use href="#s2" class="red"/><use href="#s3" class="yel"/><use href="#s4" class="grn"/><use href="#s5" class="cyn"/><use href="#s6" class="mag"/><use href="#gl"/><rect class="lb" x="11" y="-19" width="30.6" height="10"/><text class="lt" x="12.5" y="-11.5">PSMD9</text></g>
<g id="PSMC3" transform="translate(376,758)"><use href="#qTL" class="cyn"/><use href="#qTR" class="tan"/><use href="#qBL" class="yel"/><use href="#qBR" class="red"/><use href="#gl"/><text class="lu" x="11" y="-11">PSMC3</text></g>
<g id="PSMC4" transform="translate(444,762)"><use href="#qTL" class="cyn"/><use href="#qTR" class="tan"/><use href="#qBL" class="yel"/><use href="#qBR" class="red"/><use href="#gl"/><text class="lu" x="12" y="-12">PSMC4</text></g>
<g id="GNAI3" transform="translate(563,625)"><use href="#c" class="red"/><use href="#hL" class="cyn"/><use href="#gl"/><text class="lu" x="12" y="-11">GNAI3</text></g>
<g id="RGS12" transform="translate(553,685)"><use href="#c" class="red"/><use href="#gl"/><circle class="dot" cx="9" cy="10" r="4"/><rect class="lb" x="10" y="-19" width="29.2" height="10"/><text class="lt" x="11.5" y="-11.5">RGS12</text></g>
<g id="DPP3" transform="translate(621,642)"><use href="#c" class="gry"/><use href="#gl"/><text class="lu" x="12" y="-11">DPP3</text></g>
<g id="RHPN1" transform="translate(609,707)"><use href="#c" class="red"/><use href="#gl"/><rect class="lb" x="12" y="-19" width="30.1" height="10"/><text class="lt" x="13.5" y="-11.5">RHPN1</text></g>
<g id="RHPN2" transform="translate(655,584)"><use href="#c" class="red"/><use href="#gl"/><rect class="lb" x="10" y="-19" width="30.1" height="10"/><text class="lt" x="11.5" y="-11.5">RHPN2</text></g>
<g id="RGS3" transform="translate(603,575)"><use href="#c" class="yel"/><use href="#gl"/><rect class="lb" x="10" y="-18" width="24.8" height="10"/><text class="lt" x="11.5" y="-10.5">RGS3</text></g>
<g id="CNKSR1" transform="translate(532,579)"><use href="#c" class="red"/><use href="#gl"/><rect class="lb" x="11" y="-19" width="35.4" height="10"/><text class="lt" x="12.5" y="-11.5">CNKSR1</text></g>
<g id="SAMD12" transform="translate(468,557)"><use href="#c" class="gry"/><use href="#gl"/><circle class="dot" cx="8" cy="10" r="4"/><text class="lu" x="12" y="-11">SAMD12</text></g>
<g id="LIMK1" transform="translate(528,527)"><use href="#c" class="gry"/><use href="#gl"/><rect class="lb" x="11" y="-19" width="26.1" height="10"/><text class="lt" x="12.5" y="-11.5">LIMK1</text></g>
<g id="CFL1" transform="translate(574,532)"><use href="#tTL" class="cyn"/><use href="#tTR" class="blu"/><use href="#tB" class="red"/><use href="#gl"/><text class="lu" x="13" y="-14">CFL1</text></g>
<g id="GORASP2" transform="translate(623,505)"><use href="#c" class="cyn"/><use href="#gl"/><rect class="lb" x="11" y="-20" width="41.7" height="10"/><text class="lt" x="12.5" y="-12.5">GORASP2</text></g>
</g>
</svg>
